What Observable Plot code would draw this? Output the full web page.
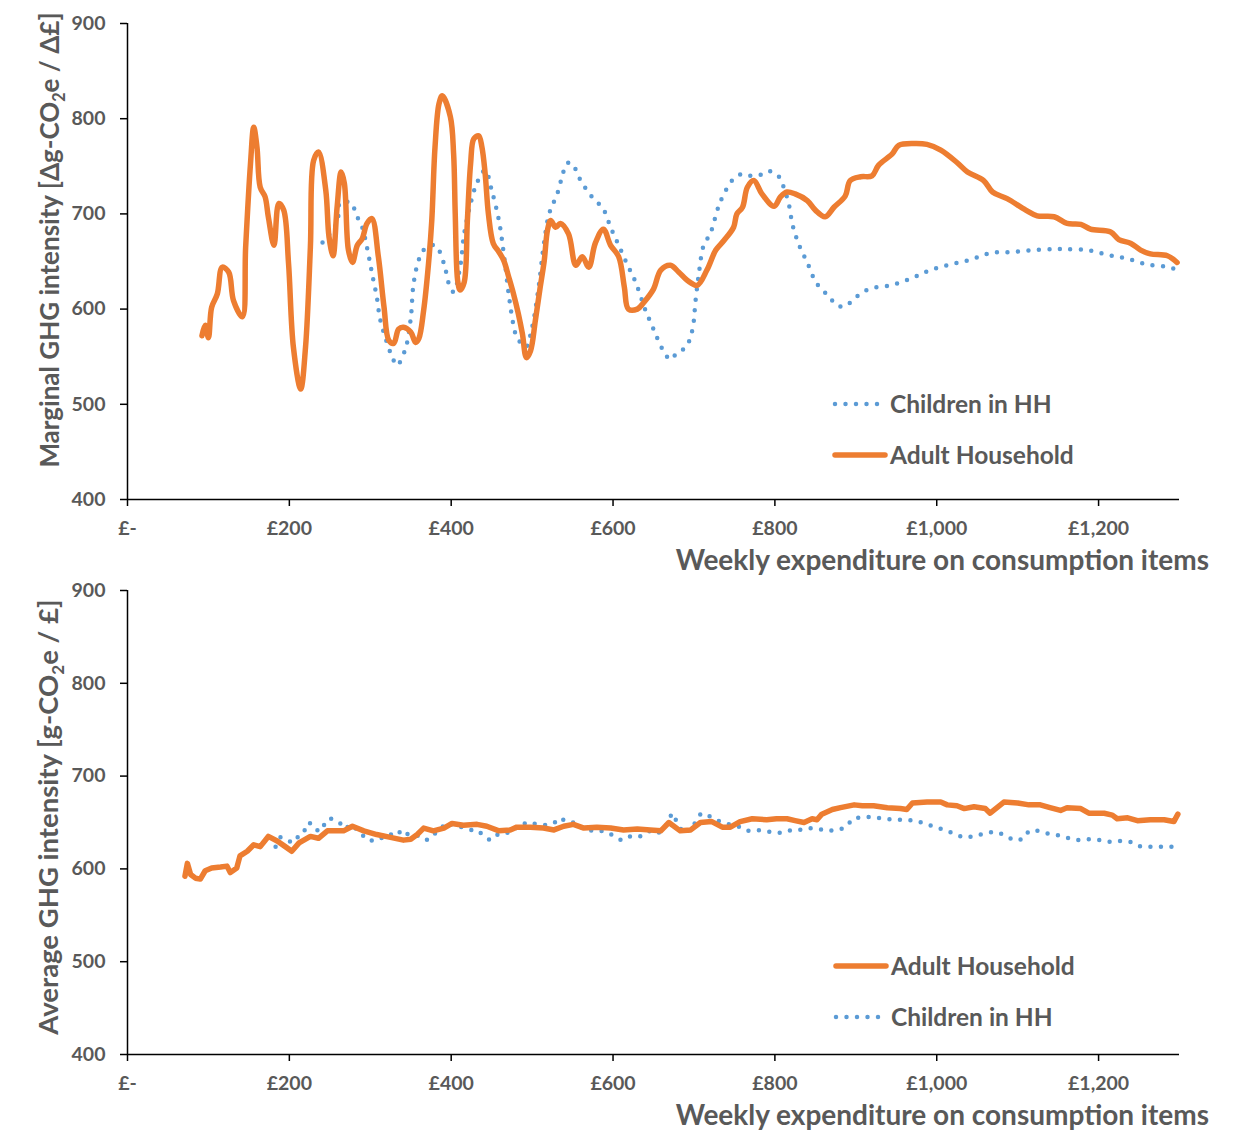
<!DOCTYPE html>
<html>
<head>
<meta charset="utf-8">
<script src="https://cdn.jsdelivr.net/npm/d3@7"></script>
<script src="https://cdn.jsdelivr.net/npm/@observablehq/plot@0.6"></script>
<style>
  body { margin: 0; background: #fff; }
  #wrap { position: relative; width: 1239px; height: 1132px; overflow: hidden; font-family: Lato, sans-serif; }
  #wrap > svg { display: block; }
  #overlay { position: absolute; left: 0; top: 0; pointer-events: none; }
</style>
</head>
<body>
<div id="wrap"></div>
<script>
// ---------- DATA ----------
const seriesNames = ["Children in HH", "Adult Household"];
const xTicks = [0, 200, 400, 600, 800, 1000, 1200];
const yTicks = [400, 500, 600, 700, 800, 900];

// Top panel: marginal GHG intensity [Δg-CO2e / Δ£] vs weekly expenditure (£)
const adultMarginal = [
  [92,572],[96,583],[100,570],[104,602],[111,616],[117,644],[125,639],[131,609],[142,592],[146,665],
  [152,753],[156,791],[160,770],[164,728],[170,718],[174,697],[181,667],[187,711],[193,704],[199,648],
  [205,560],[214,516],[220,560],[226,665],[230,756],[236,765],[245,725],[249,676],[254,656],[259,707],
  [264,744],[268,732],[273,662],[278,649],[284,667],[290,674],[296,690],[302,695],[310,655],[317,602],
  [323,567],[329,564],[335,579],[341,581],[350,576],[356,565],[360,569],[366,599],[372,648],[376,693],
  [380,770],[385,816],[389,824],[399,802],[403,763],[405,700],[408,630],[411,620],[416,628],[420,693],
  [424,753],[428,779],[434,782],[438,770],[442,742],[446,700],[452,669],[459,660],[465,651],[471,634],
  [477,616],[483,595],[488,574],[493,549],[498,556],[504,588],[510,623],[515,651],[519,683],[523,693],
  [529,686],[535,690],[545,679],[554,646],[562,655],[570,644],[578,669],[588,684],[597,667],[607,655],
  [614,623],[619,600],[630,600],[638,607],[650,621],[659,641],[671,646],[681,639],[692,630],[704,625],
  [716,641],[727,662],[737,672],[749,686],[753,700],[760,707],[766,728],[774,735],[784,721],[799,708],
  [807,718],[815,723],[825,721],[840,714],[850,704],[862,697],[873,707],[887,719],[893,735],[906,739],
  [920,740],[928,751],[945,763],[953,772],[972,774],[988,773],[1005,767],[1025,754],[1038,744],[1058,735],
  [1069,723],[1087,716],[1110,704],[1124,698],[1145,697],[1161,690],[1178,689],[1190,684],[1215,681],[1225,673],
  [1240,669],[1252,662],[1264,658],[1285,656],[1297,649]
];
const childMarginal = [
  [241,670],[259,691],[263,712],[277,711],[282,700],[290,686],[298,656],[303,634],[308,613],[312,590],
  [319,569],[327,550],[333,541],[343,557],[350,590],[353,623],[358,646],[366,662],[380,667],[391,648],
  [397,627],[403,618],[411,644],[416,679],[424,711],[432,733],[442,746],[450,725],[459,693],[465,658],
  [471,616],[477,583],[481,571],[492,560],[500,581],[508,623],[514,665],[521,700],[531,721],[537,739],
  [543,753],[549,753],[560,735],[573,719],[588,705],[597,686],[607,667],[617,648],[628,628],[640,599],
  [650,579],[661,558],[671,547],[679,554],[690,560],[698,578],[702,609],[706,637],[712,667],[720,679],
  [730,707],[736,719],[749,737],[760,742],[770,740],[782,741],[792,745],[803,741],[809,732],[817,711],
  [822,688],[830,667],[840,649],[851,628],[867,613],[877,604],[887,603],[898,611],[916,621],[943,625],
  [968,632],[992,641],[1017,647],[1042,652],[1067,659],[1093,660],[1120,662],[1145,663],[1160,663],[1186,662],
  [1211,657],[1235,653],[1260,647],[1287,644],[1297,641]
];

// Bottom panel: average GHG intensity [g-CO2e / £]
const adultAverage = [
  [71,592],[74,606],[78,594],[84,590],[90,589],[96,598],[104,601],[115,602],[123,603],[127,596],
  [135,601],[139,614],[148,619],[156,626],[164,624],[174,635],[185,630],[195,624],[203,619],[212,628],
  [226,635],[236,633],[247,641],[259,641],[267,641],[278,646],[292,641],[308,637],[325,634],[341,631],
  [350,632],[358,637],[366,644],[378,641],[391,644],[401,649],[415,647],[432,648],[444,646],[459,641],
  [473,642],[481,645],[498,645],[514,644],[527,642],[539,646],[551,648],[564,644],[580,645],[597,644],
  [613,642],[630,643],[646,642],[659,641],[669,650],[683,641],[696,642],[708,650],[722,651],[735,645],
  [745,645],[757,651],[772,654],[790,653],[802,654],[815,654],[825,652],[836,650],[846,654],[852,653],
  [858,659],[871,664],[881,666],[898,669],[908,668],[922,668],[939,666],[955,665],[963,664],[970,671],
  [988,672],[1005,672],[1013,669],[1025,668],[1034,665],[1046,667],[1060,665],[1066,660],[1083,672],[1100,671],
  [1114,669],[1128,669],[1140,666],[1153,663],[1161,666],[1178,665],[1188,660],[1207,660],[1217,658],[1223,654],
  [1236,655],[1248,652],[1264,653],[1281,653],[1293,651],[1298,659]
];
const childAverage = [
  [183,624],[189,634],[197,630],[207,629],[214,640],[220,642],[224,650],[230,647],[236,640],[242,646],
  [248,654],[254,654],[263,649],[269,643],[276,648],[284,642],[292,635],[300,630],[305,632],[312,632],
  [320,637],[327,637],[334,636],[338,642],[347,637],[355,637],[361,635],[369,631],[375,633],[382,640],
  [389,645],[395,650],[404,646],[413,645],[424,642],[432,642],[440,636],[448,631],[455,636],[462,639],
  [470,639],[477,644],[486,644],[492,650],[500,649],[508,648],[519,647],[528,650],[534,655],[545,650],
  [555,650],[562,644],[570,641],[580,642],[591,640],[600,636],[610,631],[619,635],[628,634],[637,636],
  [646,641],[655,638],[664,644],[669,653],[673,660],[687,638],[698,644],[703,653],[709,660],[722,656],
  [732,651],[744,648],[754,646],[765,641],[777,642],[787,641],[800,639],[809,639],[821,642],[831,642],
  [843,644],[854,643],[866,641],[878,642],[888,645],[896,654],[909,656],[921,656],[934,654],[947,653],
  [960,653],[973,652],[985,649],[998,645],[1010,642],[1021,638],[1033,634],[1046,635],[1058,638],[1071,640],
  [1083,637],[1095,631],[1106,632],[1114,641],[1126,641],[1138,638],[1152,636],[1164,633],[1175,631],[1188,632],
  [1202,631],[1215,629],[1227,630],[1240,629],[1252,624],[1265,624],[1278,624],[1291,624]
];

// ---------- STYLE ----------
const ORANGE = "#ED7D31";
const BLUE = "#5B9BD5";
const GREY = "#595959";
const FONT = "Lato, 'Open Sans', sans-serif";

const fmtX = d => d === 0 ? "£-" : "£" + d3.format(",")(d);

function panel(adult, child, height, marginTop, marginBottom, curve) {
  return Plot.plot({
    width: 1239,
    height,
    marginLeft: 127,
    marginRight: 60,
    marginTop,
    marginBottom,
    style: { fontFamily: FONT, fontSize: "19.5px", fontWeight: 700, color: GREY, background: "transparent", overflow: "visible" },
    x: { domain: [0, 1300] },
    y: { domain: [400, 900] },
    marks: [
      Plot.axisY({ ticks: yTicks, tickSize: 7, tickPadding: 15, label: null, stroke: "#000", strokeWidth: 1.5, fill: GREY }),
      Plot.axisX({ ticks: xTicks, tickSize: 7, tickPadding: 15, label: null, tickFormat: fmtX, stroke: "#000", strokeWidth: 1.5, fill: GREY }),
      Plot.ruleX([0], { stroke: "#000", strokeWidth: 1.5 }),
      Plot.ruleY([400], { stroke: "#000", strokeWidth: 1.5 }),
      Plot.line(child, { x: d => d[0], y: d => d[1], stroke: BLUE, strokeWidth: 4.5, strokeDasharray: "0 10.5", strokeLinecap: "round", curve }),
      Plot.line(adult, { x: d => d[0], y: d => d[1], stroke: ORANGE, strokeWidth: 5.5, strokeLinejoin: "round", strokeLinecap: "round", curve })
    ]
  });
}

const wrap = document.getElementById("wrap");
wrap.appendChild(panel(adultMarginal, childMarginal, 580, 23, 81, "catmull-rom"));
wrap.appendChild(panel(adultAverage, childAverage, 552, 10, 78, "linear"));

// ---------- TITLES & LEGENDS (overlay) ----------
const ov = d3.select(wrap).append("svg").attr("id", "overlay")
  .attr("width", 1239).attr("height", 1132)
  .style("font-family", FONT).style("font-weight", 700).attr("fill", GREY);

function xTitle(y) {
  ov.append("text").attr("x", 1209).attr("y", y).attr("text-anchor", "end")
    .style("font-size", "28px").text("Weekly expenditure on consumption items");
}
xTitle(570);
xTitle(1125);

function yTitle(cx, cy, size, before, after) {
  const t = ov.append("text").attr("transform", `translate(${cx},${cy}) rotate(-90)`)
    .attr("text-anchor", "middle").style("font-size", size + "px");
  t.append("tspan").text(before);
  t.append("tspan").attr("dy", size * 0.22).style("font-size", (size * 0.62) + "px").text("2");
  t.append("tspan").attr("dy", -size * 0.22).text(after);
}
yTitle(59, 240, 26, "Marginal GHG intensity [Δg-CO", "e / Δ£]");
yTitle(58, 817, 27.5, "Average GHG intensity [g-CO", "e / £]");

function legendItem(x, y, name) {
  const isChild = name === seriesNames[0];
  ov.append("line").attr("x1", x).attr("x2", x + 50).attr("y1", y).attr("y2", y)
    .attr("stroke", isChild ? BLUE : ORANGE)
    .attr("stroke-width", isChild ? 4.5 : 5.5)
    .attr("stroke-linecap", "round")
    .attr("stroke-dasharray", isChild ? "0 10.5" : null);
  ov.append("text").attr("x", x + 55).attr("y", y + 8.5).style("font-size", "24.5px").text(name);
}
legendItem(835, 404, seriesNames[0]);
legendItem(835, 455, seriesNames[1]);
legendItem(836, 966, seriesNames[1]);
legendItem(836, 1017, seriesNames[0]);
</script>
</body>
</html>
